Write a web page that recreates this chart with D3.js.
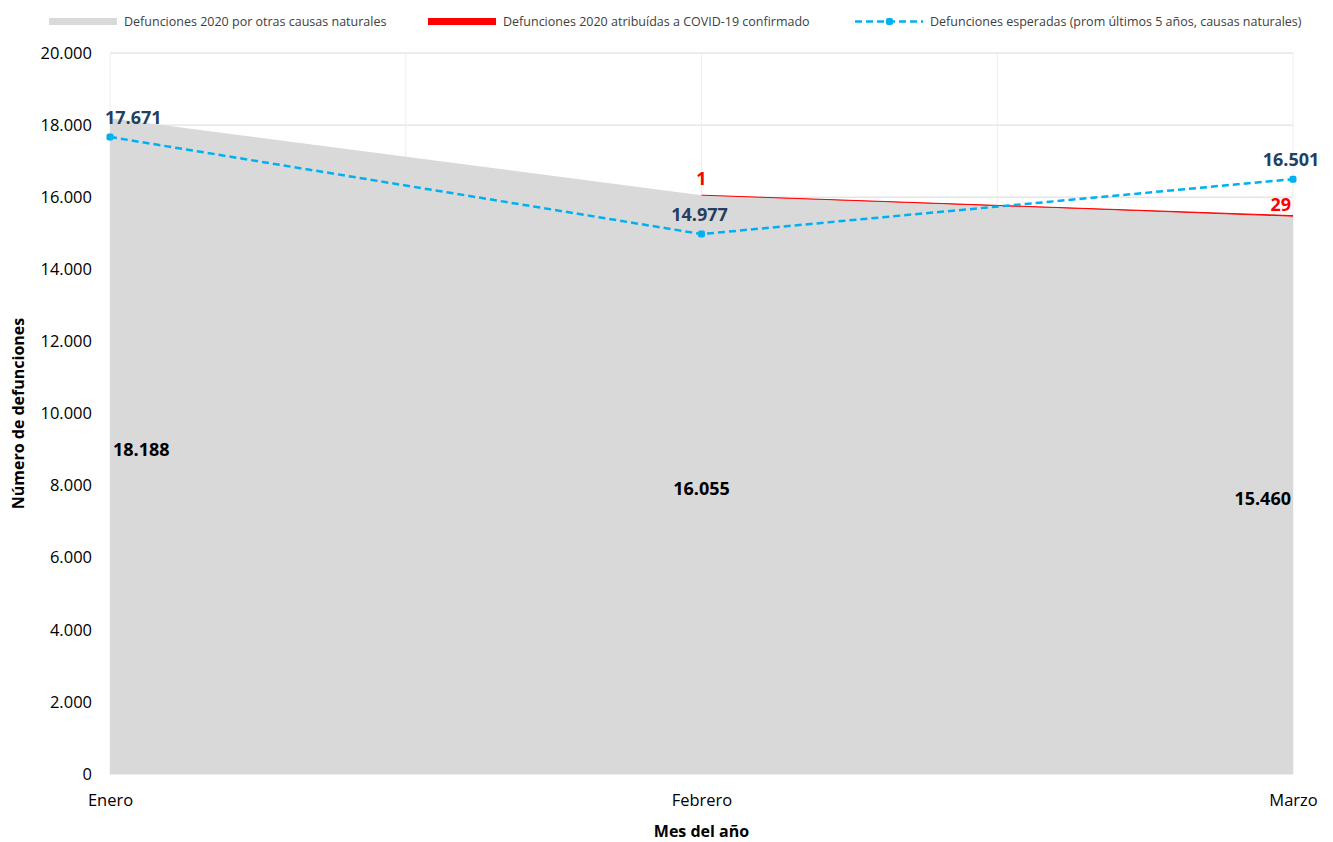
<!DOCTYPE html>
<html><head><meta charset="utf-8">
<script src="https://cdn.jsdelivr.net/npm/d3@7"></script>
<style>
body{margin:0;background:#fff;}
text{font-family:"Open Sans","Noto Sans",sans-serif;}
</style></head>
<body><svg id="c" width="1333" height="842"></svg>
<script>
const months = ["Enero", "Febrero", "Marzo"];
const otherCauses = [18188, 16055, 15460];
const covid = [0, 1, 29];
const expected = [17671, 14977, 16501];
const yTicks = [0, 2000, 4000, 6000, 8000, 10000, 12000, 14000, 16000, 18000, 20000];
const legendLabels = [
  "Defunciones 2020 por otras causas naturales",
  "Defunciones 2020 atribuídas a COVID-19 confirmado",
  "Defunciones esperadas (prom últimos 5 años, causas naturales)"
];

const svg = d3.select("#c");
const m = {l:110, r:1293, t:53, b:774};
const x = d3.scalePoint().domain(months).range([m.l, m.r]);
const y = d3.scaleLinear().domain([0, 20000]).range([m.b, m.t]);
const fmt = v => d3.format(",")(v).replace(/,/g, ".");

// gridlines
const g = svg.append("g");
g.selectAll(".hg").data(yTicks).join("line")
  .attr("x1", m.l).attr("x2", m.r).attr("y1", d => y(d)).attr("y2", d => y(d))
  .attr("stroke", "#d9d9d9").attr("stroke-width", 1);
const xv = [];
months.forEach((d, i) => { xv.push(x(d)); if (i < months.length - 1) xv.push((x(d) + x(months[i+1])) / 2); });
g.selectAll(".vg").data(xv).join("line")
  .attr("x1", d => d).attr("x2", d => d).attr("y1", m.t).attr("y2", m.b)
  .attr("stroke", "#eeeeee").attr("stroke-width", 1);

// stacked areas
const rows = months.map((mo, i) => ({mo, other: otherCauses[i], covid: covid[i]}));
const stack = d3.stack().keys(["other", "covid"])(rows);
const area = d3.area().x(d => x(d.data.mo)).y0(d => y(d[0])).y1(d => y(d[1]));
const colors = ["#d9d9d9", "#ff0000"];
svg.append("g").selectAll("path").data(stack).join("path")
  .attr("d", area).attr("fill", (d, i) => colors[i]);
// thin edge on the COVID layer where it is non-zero
const topLine = d3.line().defined(d => d.data.covid > 0).x(d => x(d.data.mo)).y(d => y(d[1]));
svg.append("path").datum(stack[1]).attr("d", topLine).attr("fill", "none")
  .attr("stroke", "#ff0000").attr("stroke-width", 1);

// axes
const ya = d3.axisLeft(y).tickValues(yTicks).tickFormat(fmt).tickSize(0).tickPadding(18);
svg.append("g").attr("transform", `translate(${m.l},0)`).call(ya)
  .call(a => a.select(".domain").remove())
  .selectAll("text").attr("font-size", 16.5).attr("fill", "#000")
  .style("font-family", '"Open Sans","Noto Sans",sans-serif');
const xa = d3.axisBottom(x).tickSize(0).tickPadding(20);
svg.append("g").attr("transform", `translate(0,${m.b})`).call(xa)
  .call(a => a.select(".domain").remove())
  .selectAll("text").attr("font-size", 16.5).attr("fill", "#000")
  .style("font-family", '"Open Sans","Noto Sans",sans-serif');

svg.append("text").attr("x", (m.l + m.r) / 2).attr("y", 837).attr("text-anchor", "middle")
  .attr("font-size", 16).attr("font-weight", "bold").text("Mes del año");
svg.append("text").attr("transform", `translate(24,${(m.t + m.b) / 2}) rotate(-90)`)
  .attr("text-anchor", "middle").attr("font-size", 16).attr("font-weight", "bold").text("Número de defunciones");

// expected line
const line = d3.line().x((d, i) => x(months[i])).y(d => y(d));
svg.append("path").datum(expected).attr("d", line).attr("fill", "none")
  .attr("stroke", "#00b0f0").attr("stroke-width", 2.5).attr("stroke-dasharray", "7,4");
svg.selectAll(".mk").data(expected).join("rect")
  .attr("x", (d, i) => x(months[i]) - 3.5).attr("y", d => y(d) - 3.5)
  .attr("width", 7).attr("height", 7).attr("rx", 2).attr("fill", "#00b0f0");

// value labels
const lab = svg.append("g").attr("font-size", 18).attr("font-weight", "bold");
lab.selectAll(".lo").data(otherCauses).join("text")
  .attr("x", (d, i) => i === 0 ? x(months[i]) + 3 : (i === 2 ? x(months[i]) - 2 : x(months[i])))
  .attr("y", d => y(d / 2) + 10)
  .attr("text-anchor", (d, i) => i === 0 ? "start" : (i === 2 ? "end" : "middle"))
  .attr("fill", "#000").text(fmt);
lab.selectAll(".lc").data(covid).join("text")
  .attr("x", (d, i) => i === 2 ? x(months[i]) - 2 : x(months[i]))
  .attr("y", (d, i) => i === 2 ? y(otherCauses[i] + d) - 5 : y(otherCauses[i] + d) - 10)
  .attr("text-anchor", (d, i) => i === 2 ? "end" : "middle")
  .attr("fill", "#ff0000").text(d => d > 0 ? fmt(d) : "");
lab.selectAll(".le").data(expected).join("text")
  .attr("x", (d, i) => i === 0 ? x(months[i]) - 5 : x(months[i]) - 2)
  .attr("y", d => y(d) - 13)
  .attr("text-anchor", (d, i) => i === 0 ? "start" : "middle")
  .attr("fill", "#243f60").text(fmt);

// legend
const lg = svg.append("g").attr("font-size", 12.5).attr("fill", "#404040");
const lx = [49, 428, 855];
lg.append("rect").attr("x", lx[0]).attr("y", 18).attr("width", 68).attr("height", 7).attr("fill", colors[0]);
lg.append("rect").attr("x", lx[1]).attr("y", 18).attr("width", 68).attr("height", 7).attr("fill", colors[1]);
lg.append("line").attr("x1", lx[2]).attr("x2", lx[2] + 68).attr("y1", 21.5).attr("y2", 21.5)
  .attr("stroke", "#00b0f0").attr("stroke-width", 2.5).attr("stroke-dasharray", "7,4");
lg.append("rect").attr("x", lx[2] + 31).attr("y", 18).attr("width", 7).attr("height", 7).attr("rx", 2).attr("fill", "#00b0f0");
lg.selectAll("text").data(legendLabels).join("text")
  .attr("x", (d, i) => lx[i] + 75).attr("y", 26).attr("fill", "#404040").text(d => d);
</script></body></html>
